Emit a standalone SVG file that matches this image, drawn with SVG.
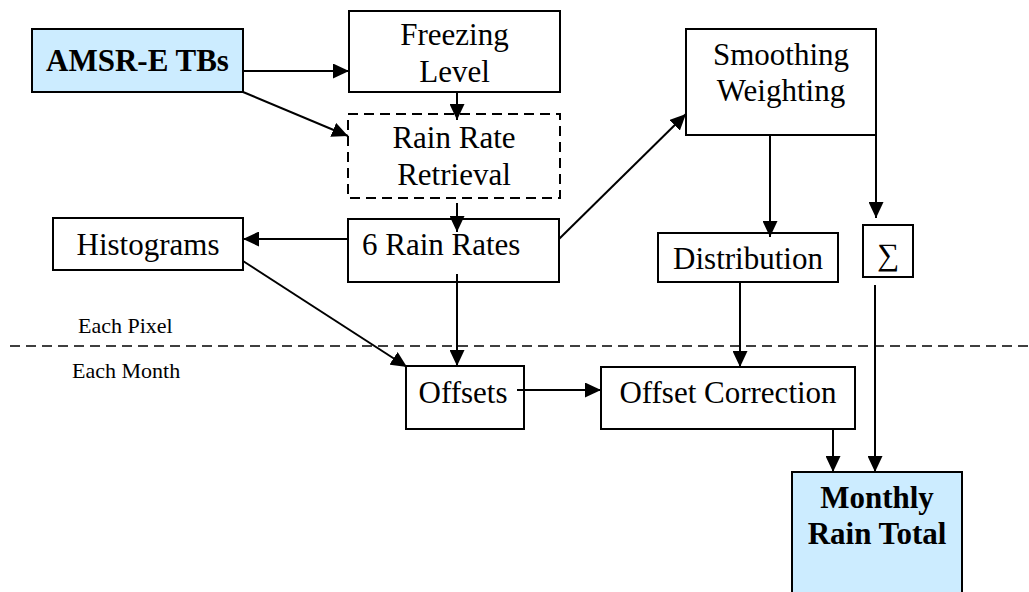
<svg xmlns="http://www.w3.org/2000/svg" width="1029" height="592" viewBox="0 0 1029 592">
<style>
.box{fill:#fff;stroke:#000;stroke-width:2}
.blue{fill:#CCECFF;stroke:#000;stroke-width:2}
.dash{fill:#fff;stroke:#000;stroke-width:2;stroke-dasharray:10,6}
.t{font-family:"Liberation Serif","Times New Roman",serif;font-size:31px;fill:#000}
.b{font-weight:bold}
.s{font-family:"Liberation Serif","Times New Roman",serif;font-size:22px;fill:#000}
.c{stroke:#000;stroke-width:2;fill:none}
</style>
<defs>
<marker id="ah" markerWidth="16" markerHeight="15" refX="16" refY="7.5" orient="auto" markerUnits="userSpaceOnUse">
<path d="M0,0 L16,7.5 L0,15 z" fill="#000"/>
</marker>
</defs>
<rect width="1029" height="592" fill="#fff"/>

<g id="amsr">
<rect class="blue" x="32" y="29" width="211" height="63"/>
<text class="t b" x="137.5" y="71" text-anchor="middle">AMSR-E TBs</text>
</g>
<g id="freezing">
<rect class="box" x="349" y="11" width="211" height="81"/>
<text class="t" x="454.5" y="45" text-anchor="middle">Freezing</text>
<text class="t" x="454.5" y="82" text-anchor="middle">Level</text>
</g>
<g id="retrieval">
<rect class="dash" x="348" y="114" width="212" height="84"/>
<text class="t" x="454" y="148" text-anchor="middle">Rain Rate</text>
<text class="t" x="454" y="185" text-anchor="middle">Retrieval</text>
</g>
<g id="rainrates">
<rect class="box" x="348" y="219" width="211" height="63"/>
<text class="t" x="362" y="255">6 Rain Rates</text>
</g>
<g id="histograms">
<rect class="box" x="53" y="218" width="190" height="52"/>
<text class="t" x="148" y="255" text-anchor="middle">Histograms</text>
</g>
<g id="smoothing">
<rect class="box" x="686" y="29" width="190" height="106"/>
<text class="t" x="781" y="65" text-anchor="middle">Smoothing</text>
<text class="t" x="781" y="101" text-anchor="middle">Weighting</text>
</g>
<g id="distribution">
<rect class="box" x="658" y="233" width="180" height="49"/>
<text class="t" x="748" y="269" text-anchor="middle">Distribution</text>
</g>
<g id="sigma">
<rect class="box" x="863" y="225" width="50" height="52"/>
<text class="t" x="888" y="265" text-anchor="middle">∑</text>
</g>
<g id="offsets">
<rect class="box" x="406" y="366" width="118" height="63"/>
<text class="t" x="463" y="403" text-anchor="middle">Offsets</text>
</g>
<g id="offsetcorrection">
<rect class="box" x="601" y="367" width="254" height="62"/>
<text class="t" x="728" y="403" text-anchor="middle">Offset Correction</text>
</g>
<g id="monthly">
<rect class="blue" x="792" y="472" width="170" height="130"/>
<text class="t b" x="877" y="508" text-anchor="middle">Monthly</text>
<text class="t b" x="877" y="544" text-anchor="middle">Rain Total</text>
</g>
<g id="separator">
<line x1="10" y1="346" x2="1029" y2="346" stroke="#000" stroke-width="1.5" stroke-dasharray="10,6"/>
<text class="s" x="78" y="333">Each Pixel</text>
<text class="s" x="72" y="378">Each Month</text>
</g>

<g id="connectors">
<line class="c" x1="243" y1="71" x2="349" y2="71" marker-end="url(#ah)"/>
<line class="c" x1="243" y1="92" x2="348" y2="136" marker-end="url(#ah)"/>
<line class="c" x1="457" y1="92" x2="457" y2="120" marker-end="url(#ah)"/>
<line class="c" x1="457" y1="203" x2="457" y2="232" marker-end="url(#ah)"/>
<line class="c" x1="348" y1="239" x2="243" y2="239" marker-end="url(#ah)"/>
<line class="c" x1="559" y1="239" x2="686" y2="114" marker-end="url(#ah)"/>
<line class="c" x1="243" y1="261" x2="407" y2="367" marker-end="url(#ah)"/>
<line class="c" x1="457" y1="274" x2="457" y2="366" marker-end="url(#ah)"/>
<line class="c" x1="517" y1="390" x2="601" y2="390" marker-end="url(#ah)"/>
<line class="c" x1="770" y1="135" x2="770" y2="237" marker-end="url(#ah)"/>
<line class="c" x1="876" y1="135" x2="876" y2="218" marker-end="url(#ah)"/>
<line class="c" x1="740" y1="282" x2="740" y2="367" marker-end="url(#ah)"/>
<line class="c" x1="875" y1="285" x2="875" y2="472" marker-end="url(#ah)"/>
<line class="c" x1="833" y1="429" x2="833" y2="472" marker-end="url(#ah)"/>
</g>
</svg>
